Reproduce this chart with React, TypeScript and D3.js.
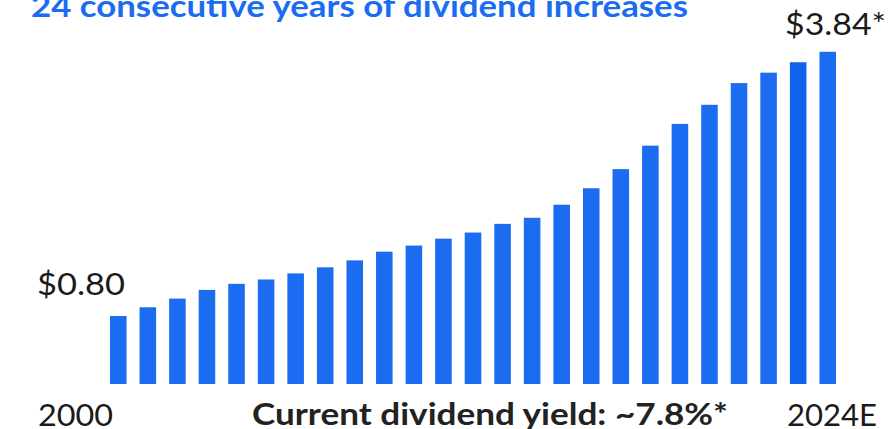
import React from "react";
import * as d3 from "d3";

const years = ["2000","2001","2002","2003","2004","2005","2006","2007","2008","2009","2010","2011","2012","2013","2014","2015","2016","2017","2018","2019","2020","2021","2022","2023","2024E"];
const dividends = [0.80,0.90,1.00,1.10,1.17,1.22,1.29,1.36,1.44,1.54,1.61,1.69,1.76,1.86,1.93,2.08,2.27,2.49,2.76,3.01,3.23,3.48,3.60,3.72,3.84];
const title = "24 consecutive years of dividend increases";
const firstLabel = "$0.80";
const lastLabel = "$3.84*";
const yieldNote = "Current dividend yield: ~7.8%*";

const W = 892, H = 429;
const FONT = "Lato, 'Open Sans', sans-serif";

export default function App() {
  const x = d3.scaleBand<string>().domain(years).range([110, 836]).paddingInner(0.44).paddingOuter(0);
  const y = d3.scaleLinear().domain([0, 4]).range([385.5, 385.5 - 4 * 86.9]);
  const base = 384;
  return (
    <svg width={W} height={H} style={{ position: "absolute", left: 0, top: 0, background: "#fff" }}>
      <rect x={0} y={0} width={W} height={H} fill="#fff" />
      <text x={31} y={17} fontFamily={FONT} fontWeight={700} fontSize={30} fill="#1a6cf0"
        textLength={657} lengthAdjust="spacingAndGlyphs">{title}</text>
      {years.map((yr, i) => (
        <rect key={yr} x={x(yr)} y={y(dividends[i])} width={x.bandwidth()} height={base - y(dividends[i])}
          fill={i === 23 ? "#0e64ee" : "#1b6cf1"} />
      ))}
      <text x={37} y={295} fontFamily={FONT} fontSize={31} fill="#1a1a1a" textLength={88} lengthAdjust="spacingAndGlyphs">{firstLabel}</text>
      <text x={785} y={35} fontFamily={FONT} fontSize={31} fill="#1a1a1a" textLength={101} lengthAdjust="spacingAndGlyphs">{lastLabel}</text>
      <text x={38} y={426} fontFamily={FONT} fontSize={31} fill="#1a1a1a" textLength={75} lengthAdjust="spacingAndGlyphs">{years[0]}</text>
      <text x={787} y={426} fontFamily={FONT} fontSize={31} fill="#1a1a1a" textLength={90} lengthAdjust="spacingAndGlyphs">{years[years.length - 1]}</text>
      <text x={252} y={425} fontFamily={FONT} fontWeight={700} fontSize={31} fill="#222" textLength={476} lengthAdjust="spacingAndGlyphs">{yieldNote}</text>
    </svg>
  );
}
